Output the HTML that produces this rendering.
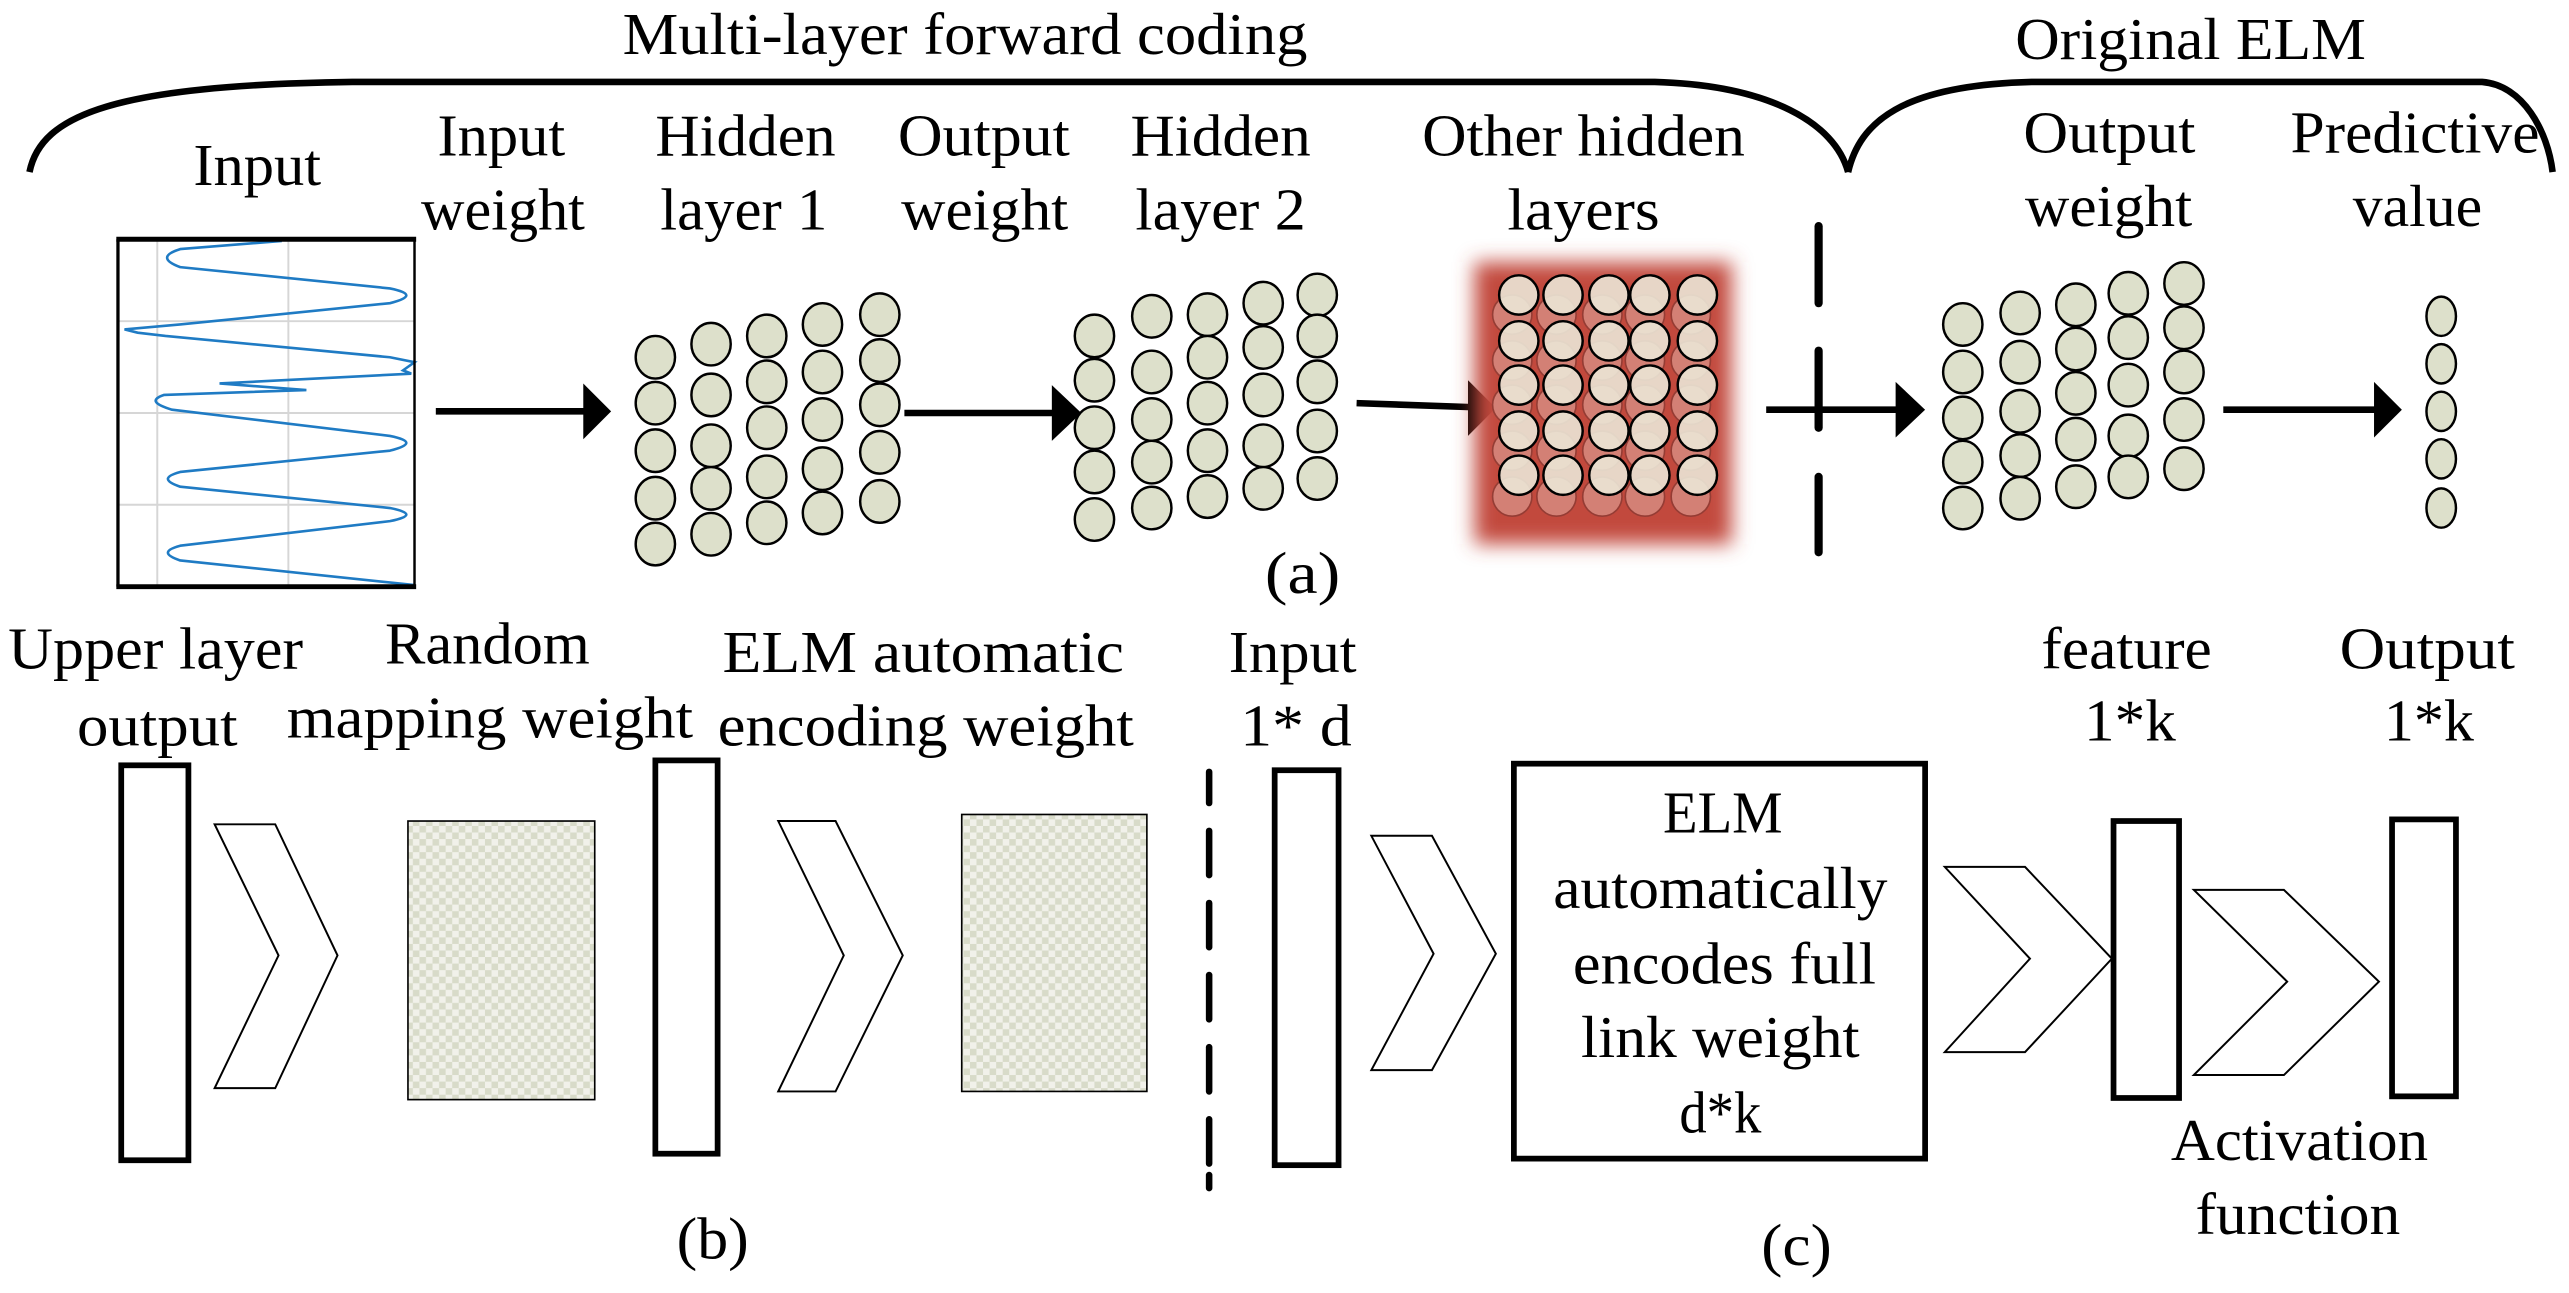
<!DOCTYPE html>
<html><head><meta charset="utf-8"><style>
html,body{margin:0;padding:0;background:#fff;}
svg{display:block;}
text{font-family:"Liberation Serif",serif;font-size:36px;fill:#000;}
</style></head><body>
<svg width="2569" height="1293" viewBox="0 0 1568 789" preserveAspectRatio="none" xmlns="http://www.w3.org/2000/svg">
<defs>
<pattern id="chk" width="8" height="8" patternUnits="userSpaceOnUse">
<rect width="8" height="8" fill="#f1f1ea"/>
<rect width="4" height="4" fill="#d8dbc9"/>
<rect x="4" y="4" width="4" height="4" fill="#d8dbc9"/>
</pattern>
<filter id="blur" x="-20%" y="-20%" width="140%" height="140%"><feGaussianBlur stdDeviation="6"/></filter>
</defs>

<text x="380" y="33" textLength="418" lengthAdjust="spacingAndGlyphs">Multi-layer forward coding</text>
<text x="1230" y="36" textLength="214" lengthAdjust="spacingAndGlyphs">Original ELM</text>

<path d="M18,105 C25,70 70,52 215,50 L1010,50 C1080,52 1120,75 1128,105" fill="none" stroke="#000" stroke-width="4"/>
<path d="M1128,105 C1135,75 1160,52 1240,50 L1515,50 C1540,52 1555,80 1558,105" fill="none" stroke="#000" stroke-width="4"/>

<g>
<text x="118" y="113" textLength="78" lengthAdjust="spacingAndGlyphs">Input</text>
<text x="267" y="95" textLength="78" lengthAdjust="spacingAndGlyphs">Input</text>
<text x="257" y="140" textLength="100" lengthAdjust="spacingAndGlyphs">weight</text>
<text x="400" y="95" textLength="110" lengthAdjust="spacingAndGlyphs">Hidden</text>
<text x="403" y="140" textLength="102" lengthAdjust="spacingAndGlyphs">layer 1</text>
<text x="548" y="95" textLength="105" lengthAdjust="spacingAndGlyphs">Output</text>
<text x="550" y="140" textLength="102" lengthAdjust="spacingAndGlyphs">weight</text>
<text x="690" y="95" textLength="110" lengthAdjust="spacingAndGlyphs">Hidden</text>
<text x="693" y="140" textLength="104" lengthAdjust="spacingAndGlyphs">layer 2</text>
<text x="868" y="95" textLength="197" lengthAdjust="spacingAndGlyphs">Other hidden</text>
<text x="920" y="140" textLength="93" lengthAdjust="spacingAndGlyphs">layers</text>
<text x="1235" y="93" textLength="105" lengthAdjust="spacingAndGlyphs">Output</text>
<text x="1236" y="138" textLength="102" lengthAdjust="spacingAndGlyphs">weight</text>
<text x="1398" y="93" textLength="152" lengthAdjust="spacingAndGlyphs">Predictive</text>
<text x="1436" y="138" textLength="79" lengthAdjust="spacingAndGlyphs">value</text>
<text x="772" y="362" textLength="46" lengthAdjust="spacingAndGlyphs">(a)</text>
</g>

<g>
<line x1="96" y1="147" x2="96" y2="357" stroke="#d6d6d6" stroke-width="1.2"/>
<line x1="176" y1="147" x2="176" y2="357" stroke="#d6d6d6" stroke-width="1.2"/>
<line x1="72" y1="196" x2="253" y2="196" stroke="#d6d6d6" stroke-width="1.2"/>
<line x1="72" y1="252" x2="253" y2="252" stroke="#d6d6d6" stroke-width="1.2"/>
<line x1="72" y1="308" x2="253" y2="308" stroke="#d6d6d6" stroke-width="1.2"/>
<path fill="none" stroke="#1f7bc4" stroke-width="1.6" d="M172,147 L110,152 Q94,157 110,163 L238,176 Q258,180 238,185 L110,198 L76,201 L84,203 L101,205 L238,218 L253,221 L246,226 L251,228 L134,234 L187,238 L100,241 Q88,245 105,250 L238,266 Q258,270 238,275 L110,288 Q95,292 110,297 L238,310 Q258,314 238,318 L110,333 Q95,337 110,342 L253,357"/>
<line x1="71" y1="146" x2="254" y2="146" stroke="#000" stroke-width="3"/>
<line x1="71" y1="358" x2="254" y2="358" stroke="#000" stroke-width="3"/>
<line x1="72" y1="146" x2="72" y2="358" stroke="#000" stroke-width="2"/>
<line x1="253" y1="146" x2="253" y2="358" stroke="#000" stroke-width="1.5"/>
</g>

<g fill="#000" stroke="#000">
<line x1="266" y1="251" x2="360" y2="251" stroke-width="4"/>
<polygon points="356,234 373,251 356,268" stroke="none"/>
<line x1="552" y1="252" x2="645" y2="252" stroke-width="4"/>
<polygon points="642,235 660,252 642,269" stroke="none"/>
<line x1="828" y1="246" x2="900" y2="248.5" stroke-width="4"/>
<polygon points="896,232 913,249 896,266" stroke="none"/>
<line x1="1078" y1="250" x2="1160" y2="250" stroke-width="4"/>
<polygon points="1157,233 1175,250 1157,267" stroke="none"/>
<line x1="1357" y1="250" x2="1452" y2="250" stroke-width="4"/>
<polygon points="1449,233 1466,250 1449,267" stroke="none"/>
</g>

<g stroke="#000" stroke-width="5" stroke-linecap="round">
<line x1="1110" y1="138" x2="1110" y2="185"/>
<line x1="1110" y1="214" x2="1110" y2="261"/>
<line x1="1110" y1="291" x2="1110" y2="337"/>
</g>

<g fill="#dde0cb" stroke="#000" stroke-width="1.5">
<ellipse cx="400" cy="218" rx="12" ry="13"/><ellipse cx="400" cy="246" rx="12" ry="13"/><ellipse cx="400" cy="275" rx="12" ry="13"/><ellipse cx="400" cy="304" rx="12" ry="13"/><ellipse cx="400" cy="332" rx="12" ry="13"/>
<ellipse cx="434" cy="210" rx="12" ry="13"/><ellipse cx="434" cy="241" rx="12" ry="13"/><ellipse cx="434" cy="272" rx="12" ry="13"/><ellipse cx="434" cy="298" rx="12" ry="13"/><ellipse cx="434" cy="326" rx="12" ry="13"/>
<ellipse cx="468" cy="205" rx="12" ry="13"/><ellipse cx="468" cy="233" rx="12" ry="13"/><ellipse cx="468" cy="261" rx="12" ry="13"/><ellipse cx="468" cy="291" rx="12" ry="13"/><ellipse cx="468" cy="319" rx="12" ry="13"/>
<ellipse cx="502" cy="198" rx="12" ry="13"/><ellipse cx="502" cy="227" rx="12" ry="13"/><ellipse cx="502" cy="256" rx="12" ry="13"/><ellipse cx="502" cy="286" rx="12" ry="13"/><ellipse cx="502" cy="313" rx="12" ry="13"/>
<ellipse cx="537" cy="192" rx="12" ry="13"/><ellipse cx="537" cy="220" rx="12" ry="13"/><ellipse cx="537" cy="247" rx="12" ry="13"/><ellipse cx="537" cy="276" rx="12" ry="13"/><ellipse cx="537" cy="306" rx="12" ry="13"/>
<ellipse cx="668" cy="205" rx="12" ry="13"/><ellipse cx="668" cy="232" rx="12" ry="13"/><ellipse cx="668" cy="261" rx="12" ry="13"/><ellipse cx="668" cy="288" rx="12" ry="13"/><ellipse cx="668" cy="317" rx="12" ry="13"/>
<ellipse cx="703" cy="193" rx="12" ry="13"/><ellipse cx="703" cy="227" rx="12" ry="13"/><ellipse cx="703" cy="256" rx="12" ry="13"/><ellipse cx="703" cy="282" rx="12" ry="13"/><ellipse cx="703" cy="310" rx="12" ry="13"/>
<ellipse cx="737" cy="192" rx="12" ry="13"/><ellipse cx="737" cy="218" rx="12" ry="13"/><ellipse cx="737" cy="246" rx="12" ry="13"/><ellipse cx="737" cy="275" rx="12" ry="13"/><ellipse cx="737" cy="303" rx="12" ry="13"/>
<ellipse cx="771" cy="185" rx="12" ry="13"/><ellipse cx="771" cy="212" rx="12" ry="13"/><ellipse cx="771" cy="241" rx="12" ry="13"/><ellipse cx="771" cy="272" rx="12" ry="13"/><ellipse cx="771" cy="298" rx="12" ry="13"/>
<ellipse cx="804" cy="180" rx="12" ry="13"/><ellipse cx="804" cy="205" rx="12" ry="13"/><ellipse cx="804" cy="233" rx="12" ry="13"/><ellipse cx="804" cy="263" rx="12" ry="13"/><ellipse cx="804" cy="292" rx="12" ry="13"/>
<ellipse cx="1198" cy="198" rx="12" ry="13"/><ellipse cx="1198" cy="227" rx="12" ry="13"/><ellipse cx="1198" cy="255" rx="12" ry="13"/><ellipse cx="1198" cy="282" rx="12" ry="13"/><ellipse cx="1198" cy="310" rx="12" ry="13"/>
<ellipse cx="1233" cy="191" rx="12" ry="13"/><ellipse cx="1233" cy="221" rx="12" ry="13"/><ellipse cx="1233" cy="251" rx="12" ry="13"/><ellipse cx="1233" cy="278" rx="12" ry="13"/><ellipse cx="1233" cy="304" rx="12" ry="13"/>
<ellipse cx="1267" cy="186" rx="12" ry="13"/><ellipse cx="1267" cy="213" rx="12" ry="13"/><ellipse cx="1267" cy="240" rx="12" ry="13"/><ellipse cx="1267" cy="268" rx="12" ry="13"/><ellipse cx="1267" cy="297" rx="12" ry="13"/>
<ellipse cx="1299" cy="179" rx="12" ry="13"/><ellipse cx="1299" cy="206" rx="12" ry="13"/><ellipse cx="1299" cy="235" rx="12" ry="13"/><ellipse cx="1299" cy="266" rx="12" ry="13"/><ellipse cx="1299" cy="291" rx="12" ry="13"/>
<ellipse cx="1333" cy="173" rx="12" ry="13"/><ellipse cx="1333" cy="200" rx="12" ry="13"/><ellipse cx="1333" cy="227" rx="12" ry="13"/><ellipse cx="1333" cy="256" rx="12" ry="13"/><ellipse cx="1333" cy="286" rx="12" ry="13"/>
<ellipse cx="1490" cy="193" rx="9" ry="12"/><ellipse cx="1490" cy="222" rx="9" ry="12"/><ellipse cx="1490" cy="251" rx="9" ry="12"/><ellipse cx="1490" cy="280" rx="9" ry="12"/><ellipse cx="1490" cy="310" rx="9" ry="12"/>
</g>

<rect x="900" y="160" width="157" height="172" fill="#c2483d" filter="url(#blur)"/>
<g fill="#d88e84" stroke="#8a3a33" stroke-width="1" opacity="0.8">
<ellipse cx="923" cy="192" rx="12" ry="12"/><ellipse cx="950" cy="192" rx="12" ry="12"/><ellipse cx="978" cy="192" rx="12" ry="12"/><ellipse cx="1004" cy="192" rx="12" ry="12"/><ellipse cx="1032" cy="192" rx="12" ry="12"/>
<ellipse cx="923" cy="220" rx="12" ry="12"/><ellipse cx="950" cy="220" rx="12" ry="12"/><ellipse cx="978" cy="220" rx="12" ry="12"/><ellipse cx="1004" cy="220" rx="12" ry="12"/><ellipse cx="1032" cy="220" rx="12" ry="12"/>
<ellipse cx="923" cy="247" rx="12" ry="12"/><ellipse cx="950" cy="247" rx="12" ry="12"/><ellipse cx="978" cy="247" rx="12" ry="12"/><ellipse cx="1004" cy="247" rx="12" ry="12"/><ellipse cx="1032" cy="247" rx="12" ry="12"/>
<ellipse cx="923" cy="275" rx="12" ry="12"/><ellipse cx="950" cy="275" rx="12" ry="12"/><ellipse cx="978" cy="275" rx="12" ry="12"/><ellipse cx="1004" cy="275" rx="12" ry="12"/><ellipse cx="1032" cy="275" rx="12" ry="12"/>
<ellipse cx="923" cy="303" rx="12" ry="12"/><ellipse cx="950" cy="303" rx="12" ry="12"/><ellipse cx="978" cy="303" rx="12" ry="12"/><ellipse cx="1004" cy="303" rx="12" ry="12"/><ellipse cx="1032" cy="303" rx="12" ry="12"/>
</g>
<g fill="#ebe6d6" stroke="#000" stroke-width="1.5" fill-opacity="0.9">
<ellipse cx="927" cy="180" rx="12" ry="12"/><ellipse cx="954" cy="180" rx="12" ry="12"/><ellipse cx="982" cy="180" rx="12" ry="12"/><ellipse cx="1007" cy="180" rx="12" ry="12"/><ellipse cx="1036" cy="180" rx="12" ry="12"/>
<ellipse cx="927" cy="208" rx="12" ry="12"/><ellipse cx="954" cy="208" rx="12" ry="12"/><ellipse cx="982" cy="208" rx="12" ry="12"/><ellipse cx="1007" cy="208" rx="12" ry="12"/><ellipse cx="1036" cy="208" rx="12" ry="12"/>
<ellipse cx="927" cy="235" rx="12" ry="12"/><ellipse cx="954" cy="235" rx="12" ry="12"/><ellipse cx="982" cy="235" rx="12" ry="12"/><ellipse cx="1007" cy="235" rx="12" ry="12"/><ellipse cx="1036" cy="235" rx="12" ry="12"/>
<ellipse cx="927" cy="263" rx="12" ry="12"/><ellipse cx="954" cy="263" rx="12" ry="12"/><ellipse cx="982" cy="263" rx="12" ry="12"/><ellipse cx="1007" cy="263" rx="12" ry="12"/><ellipse cx="1036" cy="263" rx="12" ry="12"/>
<ellipse cx="927" cy="290" rx="12" ry="12"/><ellipse cx="954" cy="290" rx="12" ry="12"/><ellipse cx="982" cy="290" rx="12" ry="12"/><ellipse cx="1007" cy="290" rx="12" ry="12"/><ellipse cx="1036" cy="290" rx="12" ry="12"/>
</g>

<g>
<text x="5" y="408" textLength="180" lengthAdjust="spacingAndGlyphs">Upper layer</text>
<text x="47" y="455" textLength="98" lengthAdjust="spacingAndGlyphs">output</text>
<text x="235" y="405" textLength="125" lengthAdjust="spacingAndGlyphs">Random</text>
<text x="175" y="450" textLength="248" lengthAdjust="spacingAndGlyphs">mapping weight</text>
<text x="441" y="410" textLength="245" lengthAdjust="spacingAndGlyphs">ELM automatic</text>
<text x="438" y="455" textLength="254" lengthAdjust="spacingAndGlyphs">encoding weight</text>
<text x="750" y="410" textLength="78" lengthAdjust="spacingAndGlyphs">Input</text>
<text x="757" y="455" textLength="68" lengthAdjust="spacingAndGlyphs">1* d</text>
<text x="1246" y="408" textLength="104" lengthAdjust="spacingAndGlyphs">feature</text>
<text x="1272" y="452" textLength="56" lengthAdjust="spacingAndGlyphs">1*k</text>
<text x="1428" y="408" textLength="107" lengthAdjust="spacingAndGlyphs">Output</text>
<text x="1455" y="452" textLength="55" lengthAdjust="spacingAndGlyphs">1*k</text>
<text x="1325" y="708" textLength="157" lengthAdjust="spacingAndGlyphs">Activation</text>
<text x="1340" y="753" textLength="125" lengthAdjust="spacingAndGlyphs">function</text>
<text x="413" y="768" textLength="44" lengthAdjust="spacingAndGlyphs">(b)</text>
<text x="1075" y="772" textLength="43" lengthAdjust="spacingAndGlyphs">(c)</text>
<text x="1015" y="508" textLength="73" lengthAdjust="spacingAndGlyphs">ELM</text>
<text x="948" y="554" textLength="204" lengthAdjust="spacingAndGlyphs">automatically</text>
<text x="960" y="600" textLength="185" lengthAdjust="spacingAndGlyphs">encodes full</text>
<text x="965" y="645" textLength="170" lengthAdjust="spacingAndGlyphs">link weight</text>
<text x="1025" y="691" textLength="50" lengthAdjust="spacingAndGlyphs">d*k</text>
</g>

<g fill="none" stroke="#000" stroke-width="3.5">
<rect x="74" y="467" width="41" height="241"/>
<rect x="400" y="464" width="38" height="240"/>
<rect x="778" y="470" width="39" height="241"/>
<rect x="924" y="466" width="251" height="241"/>
<rect x="1290" y="501" width="40" height="169"/>
<rect x="1460" y="500" width="39" height="169"/>
</g>
<rect x="249" y="501" width="114" height="170" fill="url(#chk)" stroke="#000" stroke-width="1"/>
<rect x="587" y="497" width="113" height="169" fill="url(#chk)" stroke="#000" stroke-width="1"/>

<g fill="#fff" stroke="#000" stroke-width="1.2">
<polygon points="131,503 168,503 206,583 168,664 131,664 170,583"/>
<polygon points="475,501 510,501 551,583 510,666 475,666 515,583"/>
<polygon points="837,510 874,510 913,582 874,653 837,653 875,582"/>
<polygon points="1187,529 1236,529 1289,585 1236,642 1187,642 1239,585"/>
<polygon points="1339,543 1394,543 1452,599 1394,656 1339,656 1396,599"/>
</g>

<g stroke="#000" stroke-width="4" stroke-linecap="round">
<line x1="738" y1="471" x2="738" y2="490"/>
<line x1="738" y1="507" x2="738" y2="534"/>
<line x1="738" y1="551" x2="738" y2="578"/>
<line x1="738" y1="595" x2="738" y2="622"/>
<line x1="738" y1="639" x2="738" y2="666"/>
<line x1="738" y1="683" x2="738" y2="710"/>
<line x1="738" y1="717" x2="738" y2="725"/>
</g>
</svg>
</body></html>
